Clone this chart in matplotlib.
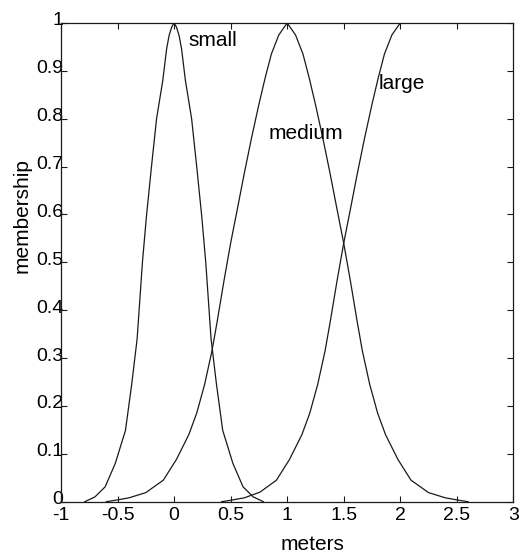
import matplotlib

matplotlib.use("Agg")
import matplotlib.pyplot as plt
from matplotlib.transforms import ScaledTranslation

# membership curves
small_x = [-0.79, -0.70, -0.61, -0.52, -0.43, -0.375, -0.327, -0.28, -0.245, -0.20,
           -0.155, -0.10, -0.066, -0.044, -0.02, 0.0, 0.02, 0.044, 0.066, 0.10,
           0.155, 0.20, 0.245, 0.28, 0.327, 0.375, 0.43, 0.52, 0.61, 0.70, 0.79]
small_y = [0.0, 0.01, 0.031, 0.08, 0.149, 0.245, 0.34, 0.50, 0.595, 0.70,
           0.80, 0.88, 0.946, 0.974, 0.992, 1.0, 0.992, 0.974, 0.946, 0.88,
           0.80, 0.70, 0.595, 0.50, 0.34, 0.245, 0.149, 0.08, 0.031, 0.01, 0.0]

medium_x = [-0.60, -0.52, -0.40, -0.25, -0.095, 0.02, 0.13, 0.20, 0.27, 0.335,
            0.38, 0.44, 0.50, 0.56, 0.62, 0.685, 0.75, 0.805, 0.86, 0.926,
            1.0, 1.074, 1.14, 1.195, 1.25, 1.315, 1.38, 1.44, 1.50, 1.56,
            1.62, 1.665, 1.73, 1.80, 1.87, 1.98, 2.095, 2.25, 2.40, 2.52, 2.60]
medium_y = [0.0, 0.003, 0.008, 0.019, 0.045, 0.088, 0.14, 0.185, 0.245, 0.315,
            0.375, 0.46, 0.54, 0.612, 0.685, 0.76, 0.83, 0.885, 0.935, 0.975,
            1.0, 0.975, 0.935, 0.885, 0.83, 0.76, 0.685, 0.612, 0.54, 0.46,
            0.375, 0.315, 0.245, 0.185, 0.14, 0.088, 0.045, 0.019, 0.008, 0.003, 0.0]

large_x = [0.42, 0.50, 0.62, 0.76, 0.905, 1.02, 1.13, 1.20, 1.27, 1.335,
           1.38, 1.44, 1.50, 1.56, 1.62, 1.685, 1.75, 1.805, 1.86, 1.926,
           2.0, 3.0]
large_y = [0.0, 0.003, 0.008, 0.02, 0.045, 0.088, 0.14, 0.185, 0.245, 0.315,
           0.375, 0.46, 0.54, 0.612, 0.685, 0.76, 0.83, 0.885, 0.935, 0.975,
           1.0, 1.0]

x_ticks = [-1, -0.5, 0, 0.5, 1, 1.5, 2, 2.5, 3]
x_tick_labels = ["-1", "-0.5", "0", "0.5", "1", "1.5", "2", "2.5", "3"]
y_ticks = [0, 0.1, 0.2, 0.3, 0.4, 0.5, 0.6, 0.7, 0.8, 0.9, 1]
y_tick_labels = ["0", "0.1", "0.2", "0.3", "0.4", "0.5", "0.6", "0.7", "0.8", "0.9", "1"]

curve_labels = [("small", 0.345, 0.964), ("medium", 1.167, 0.770), ("large", 2.016, 0.873)]

plt.rcParams.update({
    "font.family": ["Liberation Sans", "DejaVu Sans"],
    "font.size": 14,
})

ink = "#1a1a1a"

fig = plt.figure(figsize=(5.26, 5.58), dpi=100)
fig.patch.set_facecolor("white")
ax = fig.add_axes([0.116, 0.1009, 0.8599, 0.8579])

for xs, ys in [(small_x, small_y), (medium_x, medium_y), (large_x, large_y)]:
    ax.plot(xs, ys, color=ink, lw=0.9)

for name, tx, ty in curve_labels:
    ax.text(tx, ty, name, ha="center", va="center", fontsize=15, color="black")

ax.set_xlim(-1, 3)
ax.set_ylim(0, 1)
ax.set_xticks(x_ticks)
ax.set_xticklabels(x_tick_labels)
ax.set_yticks(y_ticks)
ax.set_yticklabels(y_tick_labels)
ax.tick_params(direction="in", top=True, right=True, length=4, width=0.8,
               color=ink, labelsize=14, labelcolor="black")
ax.tick_params(axis="y", pad=-1.5)
ax.tick_params(axis="x", pad=4)
for spine in ax.spines.values():
    spine.set_linewidth(0.9)
    spine.set_color(ink)

# the scanned y tick labels sit a little above their ticks
lift = ScaledTranslation(0, 4 / 100, fig.dpi_scale_trans)
for lab in ax.get_yticklabels():
    lab.set_transform(lab.get_transform() + lift)

ax.set_xlabel("meters", fontsize=15, va="center")
ax.xaxis.set_label_coords(0.557, -0.089)
ax.set_ylabel("membership", fontsize=15, va="center")
ax.yaxis.set_label_coords(-0.086, 0.597)

fig.savefig("out.png", dpi=100)
